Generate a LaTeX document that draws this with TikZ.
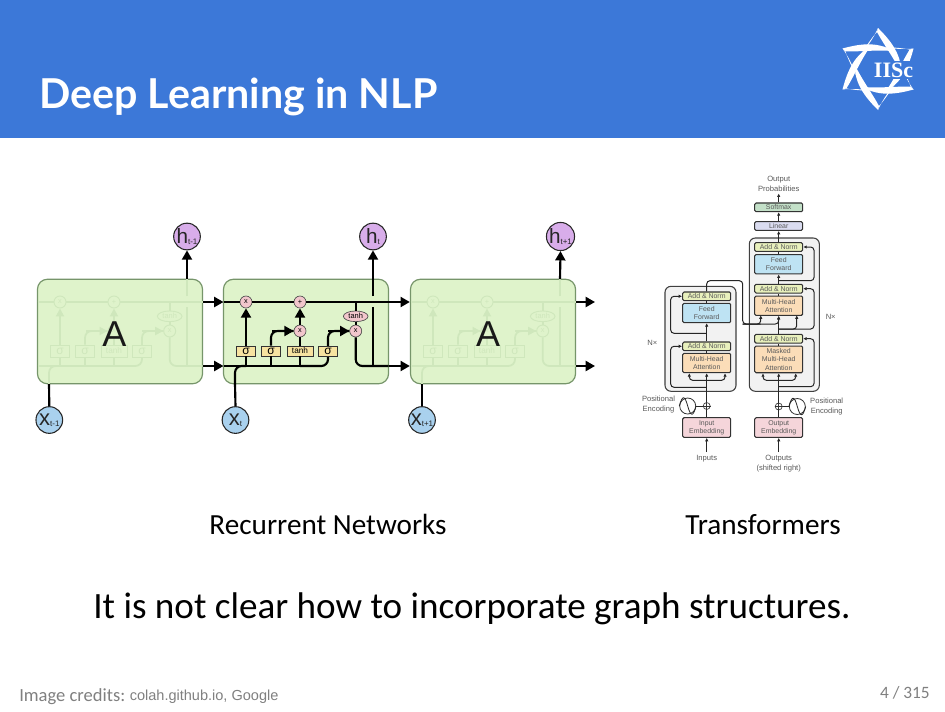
\documentclass[tikz,border=0pt]{standalone}
\usepackage{fontspec}
\setmainfont{Carlito}
\newfontfamily\arialf{Liberation Sans}
\newfontfamily\titlef{Lato}
\newfontfamily\logof{Liberation Serif}
\usetikzlibrary{arrows.meta,shapes.geometric}
\definecolor{headblue}{HTML}{3C78D8}
\definecolor{cellfill}{HTML}{DFF3CB}
\definecolor{celldraw}{HTML}{76956A}
\definecolor{fadeline}{HTML}{CFE7BC}
\definecolor{gatefill}{HTML}{F7E3A1}
\definecolor{opfill}{HTML}{F2C6CC}
\definecolor{hfill}{HTML}{D8ADEA}
\definecolor{xfill}{HTML}{A9D1EE}
\definecolor{tgray}{HTML}{5A5A5A}
\definecolor{foot}{HTML}{808080}
\definecolor{anfill}{HTML}{E8F0BC}
\definecolor{fffill}{HTML}{BEE3F3}
\definecolor{mhfill}{HTML}{FBDDB8}
\definecolor{embfill}{HTML}{F5D5DA}
\definecolor{smfill}{HTML}{C3E0C8}
\definecolor{lnfill}{HTML}{DADCF0}
\tikzset{
  x=0.75pt,y=-0.75pt,
  cellbox/.style={draw=celldraw,fill=cellfill,line width=.9pt,rounded corners=7.5pt,minimum width=123.8pt,minimum height=78.4pt,inner sep=0},
  wire/.style={draw=black,line width=1.6pt},
  wirearrow/.style={wire,-{Triangle[length=7pt,width=7.5pt]}},
  gatebox/.style={draw=black!80,fill=gatefill,line width=.5pt,minimum height=7.5pt,inner sep=0,text=black,font=\arialf\fontsize{6.2}{7}\selectfont},
  sigtext/.style={font=\arialf\fontsize{9}{7}\selectfont},
  opgate/.style={circle,draw=black!70,fill=opfill,line width=.5pt,minimum size=9pt,inner sep=0,text=black,font=\arialf\fontsize{5.5}{6}\selectfont},
  opell/.style={ellipse,draw=black!70,fill=opfill,line width=.5pt,minimum width=18.5pt,minimum height=8pt,inner sep=0,text=black,font=\arialf\fontsize{5.6}{6}\selectfont},
  fadelook/.style={
    wire/.style={draw=fadeline,line width=1.3pt},
    wirearrow/.style={wire,-{Triangle[length=6pt,width=6pt]}},
    gatebox/.style={draw=fadeline,fill=cellfill,line width=.7pt,minimum height=9pt,inner sep=0,text=fadeline,font=\arialf\fontsize{6.2}{7}\selectfont},
    opgate/.style={circle,draw=fadeline,fill=cellfill,line width=.7pt,minimum size=9pt,inner sep=0,text=fadeline,font=\arialf\fontsize{5.5}{6}\selectfont},
    opell/.style={ellipse,draw=fadeline,fill=cellfill,line width=.7pt,minimum width=18.5pt,minimum height=8pt,inner sep=0,text=fadeline,font=\arialf\fontsize{5.6}{6}\selectfont}},
  hcirc/.style={circle,draw=black!85,fill=hfill,line width=.8pt,minimum size=20pt,inner sep=0,text=black!85,font=\arialf\fontsize{15.5}{15}\selectfont},
  xcirc/.style={circle,draw=black!85,fill=xfill,line width=.8pt,minimum size=20pt,inner sep=0,text=black!85,font=\arialf\fontsize{16.5}{15}\selectfont},
  tbox/.style={draw=black!80,line width=.8pt,rounded corners=1pt,minimum width=36pt,inner sep=0,align=center,text=tgray,font=\arialf\fontsize{5.2}{6.2}\selectfont},
  tgroup/.style={draw=black!75,fill=black!5,line width=.8pt,rounded corners=4.5pt,inner sep=0},
  tline/.style={draw=black!85,line width=.75pt,rounded corners=2.5pt},
  tarrow/.style={tline,-{Latex[length=2.6pt,width=2.6pt]}},
  tlabel/.style={align=center,inner sep=0,text=tgray,font=\arialf\fontsize{5.7}{7.5}\selectfont},
  tplus/.style={circle,draw=black!80,line width=.5pt,minimum size=5.2pt,inner sep=0},
  tsine/.style={circle,draw=black!80,line width=.6pt,minimum size=12pt,inner sep=0},
  capt/.style={inner sep=0,font=\fontsize{21.9}{26}\selectfont},
  logoblade/.style={fill=white,draw=none},
}
\newcommand\lstmcell[2]{%
\begin{scope}[shift={(#2,0)}]
  \node[opgate] (#1mA) at (246,302) {x};
  \node[opgate] (#1pl) at (300,302) {+};
  \node[opgate] (#1mB) at (300,331) {x};
  \node[opgate] (#1mC) at (355.7,331) {x};
  \node[opell] (#1th) at (355.7,316.3) {tanh};
  \node[gatebox,minimum width=14pt,sigtext] (#1sA) at (246,351) {σ};
  \node[gatebox,minimum width=14pt,sigtext] (#1sB) at (271,351) {σ};
  \node[gatebox,minimum width=19.5pt] (#1tg) at (300,351) {tanh};
  \coordinate (#1tl) at (223.5,302);
  \coordinate (#1tr) at (388.5,302);
  \coordinate (#1bl) at (223.5,366);
  \coordinate (#1br) at (388.5,366);
  \coordinate (#1hb) at (373,366);
  \coordinate (#1hm) at (373,306.5);
  \coordinate (#1hn) at (373,296);
  \coordinate (#1ht) at (373,279);
  \coordinate (#1xb) at (235,384);
  \coordinate (#1sCpos) at (328,351);
  \draw[wire] (#1tl) -- (#1mA) -- (#1pl) -- (#1tr);
  \draw[wire] (#1bl) -- (#1bl -| #1tg) ;
  \draw[wire,rounded corners=5pt] (#1bl -| #1tg) -- (#1bl -| #1sCpos) -- (#1sCpos |- #1mC) -- (#1mC);
  \draw[wirearrow] (#1sCpos |- #1mC) -- (#1mC.west);
  \node[gatebox,minimum width=14pt,sigtext] (#1sC) at (#1sCpos) {σ};
  \draw[wire] (#1sA.south) -- (#1sA |- #1bl);
  \draw[wire] (#1tg.south) -- (#1tg |- #1bl);
  \draw[wire] (#1sB.south) -- (#1sB |- #1bl);
  \draw[wirearrow] (#1sA.north) -- (#1mA.south);
  \draw[wire,rounded corners=5pt] (#1sB.north) |- (#1mB.west);
  \draw[wirearrow] ([xshift=-16]#1mB.west) -- (#1mB.west);
  \draw[wire] (#1tg.north) -- (#1mB.south);
  \draw[wirearrow] (#1mB.north) -- (#1pl.south);
  \draw[wire] (#1th.north) -- (#1th |- #1tl);
  \draw[wire] (#1th.south) -- (#1mC.north);
  \draw[wire,rounded corners=5pt] (#1mC.south) |- (#1br);
  \draw[wire] (#1hb) -- (#1hm);
  \draw[wire] (#1hn) -- (#1ht);
  \draw[wire,rounded corners=5pt] (#1xb) |- (#1sA |- #1bl);
\end{scope}}
\newcommand\sinecurve[1]{%
  \draw[draw=black!85,line width=.6pt] (#1.west) .. controls +(3,-11) and +(-3,-11) .. (#1.center) .. controls +(3,11) and +(-3,11) .. (#1.east);}
\newcommand\pluscross[1]{%
  \draw[draw=black!80,line width=.4pt] (#1.north) -- (#1.south) (#1.west) -- (#1.east);}
\begin{document}
\begin{tikzpicture}
\useasboundingbox (0,0) rectangle (945,711);
\fill[white] (0,0) rectangle (945,711);
\fill[headblue] (0,0) rectangle (945,138);
\node[anchor=west,inner sep=0,text=white,font=\titlef\bfseries\fontsize{30.9}{34}\selectfont] (title) at (39,96.5) {Deep Learning in NLP};
% logo
\begin{scope}[shift={(878,69)}]
  \foreach \a in {0,60,...,300}{
    \begin{scope}[rotate=\a]
      \fill[logoblade] (0,-41) .. controls (10,-31) and (24,-16) .. (23,4) .. controls (16,-11) and (6,-24) .. (-1,-37) -- cycle;
      \fill[logoblade] (0,-41) .. controls (-3,-34) and (-9,-24) .. (-17,-15) .. controls (-11,-24) and (-5,-33) .. (-1,-37) -- cycle;
    \end{scope}}
\end{scope}
\fill[headblue] (873,61) rectangle (914,79);
\node[inner sep=0,text=white,font=\logof\bfseries\fontsize{16.5}{18}\selectfont] (logotext) at (893.5,70) {IISc};
% LSTM cells
\node[cellbox] (boxa) at (120,331.5) {};
\node[cellbox] (boxb) at (306,331.5) {};
\node[cellbox] (boxc) at (493,331.5) {};
\begin{scope}[fadelook]
\lstmcell{a}{-186}
\lstmcell{c}{187}
\end{scope}
\lstmcell{b}{0}
\node[inner sep=0,text=black!90,font=\arialf\fontsize{27}{27}\selectfont] (Aa) at (114.5,334) {A};
\node[inner sep=0,text=black!90,font=\arialf\fontsize{27}{27}\selectfont] (Ac) at (488,334) {A};
\node[hcirc] (ha) at (187,236.5) {h\raisebox{-1pt}{\fontsize{6}{6}\selectfont t-1}};
\node[hcirc] (hb) at (373,236.5) {h\raisebox{-1pt}{\fontsize{6}{6}\selectfont t}};
\node[hcirc] (hc) at (560.5,236.5) {h\raisebox{-1pt}{\fontsize{6}{6}\selectfont t+1}};
\node[xcirc] (xa) at (49.3,420) {x\raisebox{-1pt}{\fontsize{6}{6}\selectfont t-1}};
\node[xcirc] (xb) at (235.5,420) {x\raisebox{-1pt}{\fontsize{6}{6}\selectfont t}};
\node[xcirc] (xc) at (422,420) {x\raisebox{-1pt}{\fontsize{6}{6}\selectfont t+1}};
\foreach \c in {a,b,c}{
  \draw[wirearrow] (\c ht) -- (h\c.south);
  \draw[wire] (x\c.north) -- (\c xb);
}
\coordinate (endT) at (595,302);
\coordinate (endB) at (595,366);
\draw[wirearrow] (boxa.east |- btl) -- (btl);
\draw[wirearrow] (boxa.east |- bbl) -- (bbl);
\draw[wirearrow] (btr) -- (boxc.west |- btr);
\draw[wirearrow] (bbr) -- (boxc.west |- bbr);
\draw[wirearrow] (boxc.east |- endT) -- (endT);
\draw[wirearrow] (boxc.east |- endB) -- (endB);
% Transformer groups
\path[tgroup] (665,286.3) rectangle (736,391.3);
\path[tgroup] (749.3,238) rectangle (819.3,391.3);
% Transformer encoder
\node[tbox,fill=anfill,minimum height=6.5pt] (ean2) at (706.7,296.3) {Add \& Norm};
\node[tbox,fill=fffill,minimum height=14.5pt] (eff) at (706.7,313) {Feed\\Forward};
\node[tbox,fill=anfill,minimum height=6.5pt] (ean1) at (706.7,346.3) {Add \& Norm};
\node[tbox,fill=mhfill,minimum height=14.5pt] (emh) at (706.7,363) {Multi-Head\\Attention};
\node[tbox,fill=embfill,minimum height=14.7pt] (iemb) at (706.7,427.5) {Input\\Embedding};
\node[tplus] (ipl) at (706.7,406) {};
\node[tsine] (isin) at (687.7,406) {};
% decoder
\node[tbox,fill=smfill,minimum height=6.5pt] (smax) at (778.7,207.3) {Softmax};
\node[tbox,fill=lnfill,minimum height=6.5pt] (lin) at (778.7,226) {Linear};
\node[tbox,fill=anfill,minimum height=6.5pt] (dan3) at (778.7,247) {Add \& Norm};
\node[tbox,fill=fffill,minimum height=14.5pt] (dff) at (778.7,264.2) {Feed\\Forward};
\node[tbox,fill=anfill,minimum height=6.5pt] (dan2) at (778.7,288.7) {Add \& Norm};
\node[tbox,fill=mhfill,minimum height=14.5pt] (dmh) at (778.7,305.7) {Multi-Head\\Attention};
\node[tbox,fill=anfill,minimum height=6.5pt] (dan1) at (778.7,338.7) {Add \& Norm};
\node[tbox,fill=mhfill,minimum height=20pt] (dmm) at (778.7,359.4) {Masked\\Multi-Head\\Attention};
\node[tbox,fill=embfill,minimum height=14.7pt] (oemb) at (778.7,427.5) {Output\\Embedding};
\node[tplus] (opl) at (778.7,406.5) {};
\node[tsine] (osin) at (797.3,406.5) {};
\sinecurve{isin}
\sinecurve{osin}
\pluscross{ipl}
\pluscross{opl}
% labels
\node[tlabel] (lout) at (778.7,184) {Output\\Probabilities};
\node[tlabel] (lin1) at (706.7,459) {Inputs};
\node[tlabel] (lin2) at (778.7,464) {Outputs\\(shifted right)};
\node[tlabel] (lp1) at (658.5,405) {Positional\\Encoding};
\node[tlabel] (lp2) at (826.7,406.7) {Positional\\Encoding};
\node[tlabel] (nx1) at (652.3,343) {N×};
\node[tlabel] (nx2) at (830.7,317) {N×};
\coordinate (ein) at (706.7,452);
\coordinate (din) at (778.7,452);
% encoder connectors
\draw[tarrow] (ein) -- (iemb.south);
\draw[tline] (iemb.north) -- (ipl.south);
\draw[tarrow] (ipl.north) -- (emh.south);
\draw[tline] (isin.east) -- (ipl.west);
\draw[tline] (emh.north) -- (ean1.south);
\draw[tarrow] (ean1.north) -- (eff.south);
\draw[tline] (eff.north) -- (ean2.south);
\coordinate (eres1) at (670.7,333.3);
\coordinate (eres2) at (670.7,387.3);
\draw[tarrow] (eff.south |- eres1) -- (eres1) |- (ean2.west);
\draw[tarrow] (ipl |- eres2) -- (eres2) |- (ean1.west);
\coordinate (efL) at (689.3,380.3);
\coordinate (efR) at (725,380.3);
\draw[tarrow] (ipl |- efL) -| (efL |- emh.south);
\draw[tarrow] (ipl |- efR) -| (efR |- emh.south);
% decoder connectors
\draw[tarrow] (din) -- (oemb.south);
\draw[tline] (oemb.north) -- (opl.south);
\draw[tarrow] (opl.north) -- (dmm.south);
\draw[tline] (osin.west) -- (opl.east);
\draw[tline] (dmm.north) -- (dan1.south);
\draw[tarrow] (dan1.north) -- (dmh.south);
\draw[tline] (dmh.north) -- (dan2.south);
\draw[tarrow] (dan2.north) -- (dff.south);
\draw[tline] (dff.north) -- (dan3.south);
\draw[tarrow] (dan3.north) -- (lin.south);
\draw[tarrow] (lin.north) -- (smax.south);
\coordinate (probs) at (778.7,193.5);
\draw[tarrow] (smax.north) -- (probs);
\coordinate (dres1) at (814,386.7);
\coordinate (dres2) at (814,329);
\coordinate (dres3) at (814,280.7);
\draw[tarrow] (opl |- dres1) -- (dres1) |- (dan1.east);
\draw[tarrow] (dan1.north |- dres2) -- (dres2) |- (dan2.east);
\draw[tarrow] (dan2.north |- dres3) -- (dres3) |- (dan3.east);
\coordinate (dfL) at (763,380.3);
\coordinate (dfR) at (795.7,380.3);
\draw[tarrow] (opl |- dfL) -| (dfL |- dmm.south);
\draw[tarrow] (opl |- dfR) -| (dfR |- dmm.south);
% cross attention
\coordinate (crA) at (742.7,280.7);
\coordinate (crB) at (742.7,324);
\coordinate (mhL) at (760.7,315.3);
\coordinate (mhR) at (796.7,315.3);
\draw[tline] (ean2.north) |- (crA) -- (crB) -- (mhL |- crB);
\draw[tarrow] (crB) -- ++(18,0) -- (mhL);
\draw[tarrow] (crB) -| (dmh.south);
\draw[tarrow] (dan1.north |- dres2) -- ++(18,0) -- (mhR);
% captions
\node[capt] (cap1) at (328,524.5) {Recurrent Networks};
\node[capt] (cap2) at (763,524.5) {Transformers};
\node[inner sep=0,font=\fontsize{27.85}{32}\selectfont] (msg) at (472,609) {It is not clear how to incorporate graph structures.};
\node[anchor=west,inner sep=0,text=foot,font=\fontsize{13.9}{16}\selectfont] (cr1) at (19,697) {Image credits:};
\node[anchor=west,inner sep=0,text=foot,font=\arialf\fontsize{10.9}{13}\selectfont] (cr2) at (129.5,697) {colah.github.io, Google};
\node[anchor=east,inner sep=0,text=foot,font=\fontsize{13}{15}\selectfont] (pg) at (930,693) {4 / 315};
\end{tikzpicture}
\end{document}
